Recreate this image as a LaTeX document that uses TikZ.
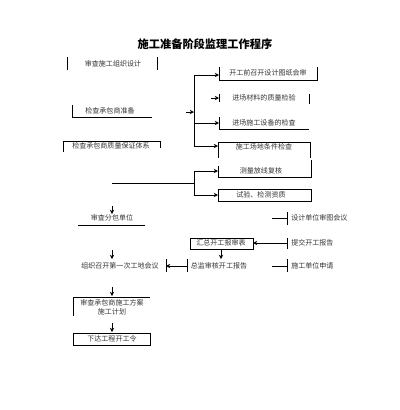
\documentclass[tikz,border=0pt]{standalone}
\usepackage{fontspec}
\newfontfamily\cjk{Noto Sans CJK SC}
\usetikzlibrary{arrows.meta}
\tikzset{
  txt/.style={font=\cjk\fontsize{5}{6}\selectfont,text=black!80,inner sep=0pt},
  edge/.style={line width=0.7pt},
  flow/.style={line width=0.6pt,-{Stealth[length=3pt,width=3pt]}}
}
\begin{document}
\begin{tikzpicture}[x=0.025cm,y=-0.025cm]
\useasboundingbox (0,0) rectangle (400,410);
% title
\node[txt,font=\cjk\bfseries\fontsize{8}{9}\selectfont,text=black] (title) at (205,44) {施工准备阶段监理工作程序};
% left column
\node[txt] (szz) at (113,64) {审查施工组织设计};
\draw[edge] (67,57) -- (67,70) (157,57) -- (157,70);
\node[txt] (jcz) at (110,111) {检查承包商准备};
\draw[edge] (72,105) -- (72,117) -- (152,117);
\node[txt] (jcb) at (111,146) {检查承包商质量保证体系};
\draw[edge] (63,152) -- (63,141) -- (160,141) -- (160,148);
% right branch one
\node[txt] (kgq) at (268,73) {开工前召开设计图纸会审};
\draw[edge] (219,67) -- (219,80) -- (317,80) -- (317,67);
\node[txt] (jcl) at (264,98) {进场材料的质量检验};
\draw[edge] (219,94) -- (219,102) (309,94) -- (309,104);
\node[txt] (jsb) at (264,123) {进场施工设备的检查};
\draw[edge] (219,117) -- (219,129) -- (309,129);
\node[txt] (scd) at (264,147) {施工场地条件检查};
\draw[edge] (218,158) -- (218,142) -- (310,142) -- (310,158);
\coordinate (b1t) at (194,75);
\coordinate (b1c) at (194,123);
\coordinate (b1b) at (194,146);
\draw[edge] (b1t) -- (b1b);
\draw[flow] (b1t) -- (219,75);
\draw[flow] (b1c) -- (219,123);
\draw[flow] (b1b) -- (218,146);
\coordinate (s1) at (186,112);
\draw[flow] (s1) -- (194,112);
\coordinate (s2) at (211,98);
\draw[flow] (s2) -- (219,98);
% right branch two
\node[txt] (clf) at (261,171) {测量放线复核};
\draw[edge] (218,166) -- (218,177) -- (311,177) -- (311,160);
\node[txt] (syj) at (261,195) {试验、检测资质};
\draw[edge] (218,189) rectangle (311,201);
\coordinate (b2s) at (112,183);
\coordinate (b2m) at (194,183);
\coordinate (b2t) at (194,171);
\coordinate (b2b) at (194,195);
\draw[edge] (b2s) -- (b2m);
\draw[edge] (b2t) -- (b2b);
\draw[flow] (b2t) -- (218,171);
\draw[flow] (b2b) -- (218,195);
% subcontractor
\node[txt] (sfb) at (112,218) {审查分包单位};
\draw[edge] (78,225) -- (145,225);
\coordinate (a1) at (112,206);
\draw[flow] (a1) -- (112,214);
% right column
\node[txt,anchor=west] (sjd) at (291,218) {设计单位审图会议};
\draw[edge] (272,218) -- (287,218) (287,212) -- (287,225);
\node[txt,anchor=west] (tjk) at (291,243) {提交开工报告};
\draw[edge] (287,238) -- (287,249);
\node[txt,anchor=west] (sgs) at (291,266) {施工单位申请};
\draw[edge] (272,266) -- (287,266) (287,259) -- (287,272);
% middle column
\node[txt] (hzs) at (221,243) {汇总开工报审表};
\draw[edge] (190,238) rectangle (253,249);
\draw[flow] (287,243) -- (253,243);
\node[txt] (zjs) at (219,266) {总监审核开工报告};
\draw[edge] (187,259) -- (187,272);
\draw[flow] (221,249) -- (221,259);
% first site meeting
\node[txt] (zzk) at (120,266) {组织召开第一次工地会议};
\draw[edge] (166,259) -- (166,272);
\draw[flow] (187,266) -- (166,266);
\coordinate (a2) at (112,250);
\draw[flow] (a2) -- (112,259);
% bottom
\node[txt,align=center,font=\cjk\fontsize{5}{6.5}\selectfont] (sfa) at (112,307.5) {审查承包商施工方案\\施工计划};
\draw[edge] (73,316) -- (73,297) -- (150,297);
\coordinate (a3) at (112,287);
\draw[flow] (a3) -- (112,296);
\node[txt] (xdk) at (112,339) {下达工程开工令};
\draw[edge] (73,333) rectangle (150,345);
\coordinate (a4) at (112,323);
\draw[flow] (a4) -- (112,332);
\end{tikzpicture}
\end{document}
